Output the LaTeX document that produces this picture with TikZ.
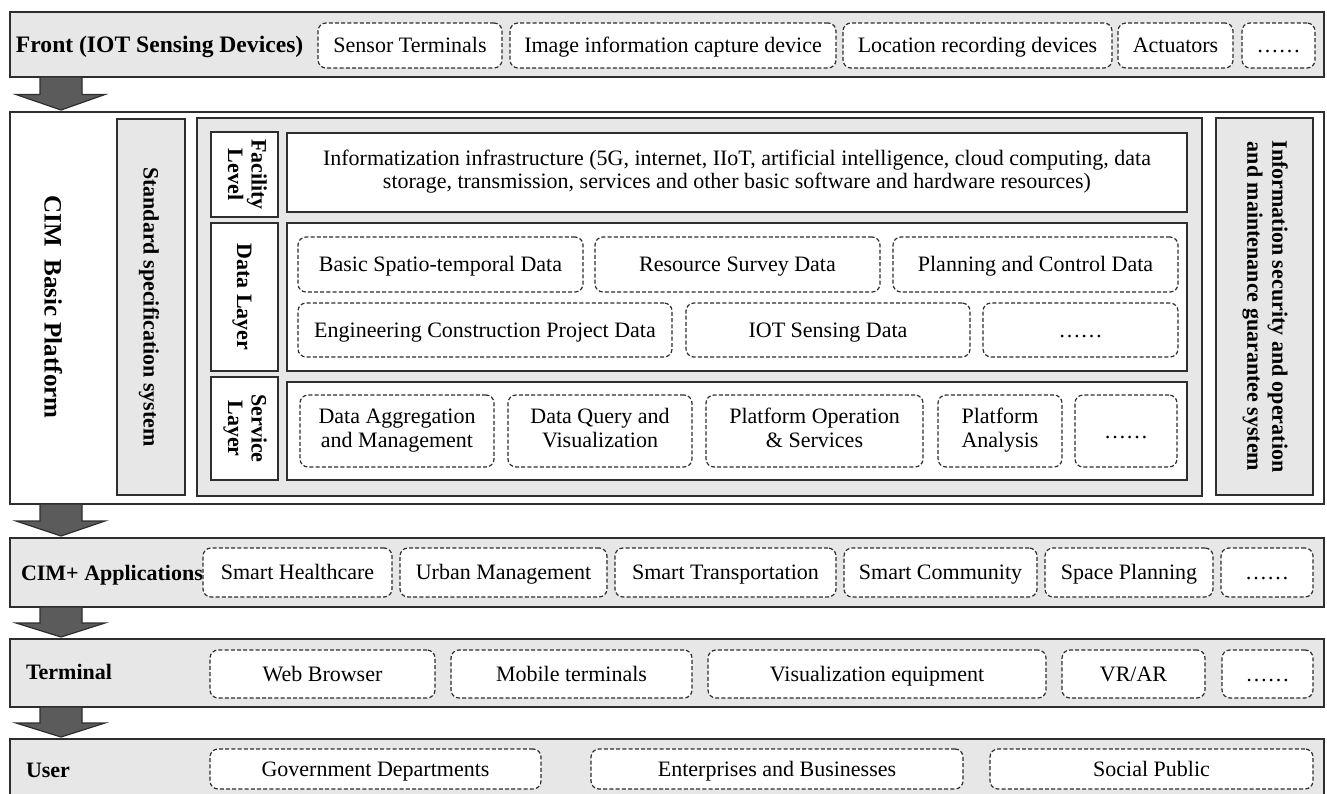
\documentclass[tikz,border=0pt]{standalone}
\usepackage{fontspec}
\setmainfont{Liberation Serif}
\usetikzlibrary{calc}

\definecolor{barfill}{HTML}{E7E7E7}
\definecolor{edge}{HTML}{2E2E2E}
\definecolor{arrowfill}{HTML}{5B5B5B}

% invisible rule, deeper and taller than any letter, whose middle sits at
% half the capital height: every line is then centred on its capitals
\newcommand\capstrut{\rule[-6pt]{0pt}{26.6pt}}

\tikzset{
  every node/.style={font=\fontsize{22}{23.5}\selectfont, inner sep=0pt, outer sep=0pt},
  centred/.style={execute at begin node=\capstrut, execute at end node=\capstrut},
  bar/.style={draw=edge, fill=barfill, line width=1.8pt},
  platform/.style={draw=edge, fill=white, line width=1.8pt},
  panel/.style={draw=edge, fill=barfill, line width=1.4pt},
  whitebox/.style={draw=edge, fill=white, line width=1.4pt, align=center, centred},
  headbox/.style={draw=edge, fill=white, line width=1.4pt, align=center, centred,
    font=\fontsize{22}{23.5}\selectfont\bfseries},
  sidebox/.style={draw=edge, fill=barfill, line width=1.4pt, align=center, centred,
    font=\fontsize{22}{25}\selectfont\bfseries},
  item/.style={draw=edge, fill=white, line width=1.2pt,
    dash pattern=on 4pt off 2.2pt, rounded corners=8pt, align=center, centred},
  lbl/.style={font=\fontsize{22}{24}\selectfont\bfseries, anchor=west, centred},
  bigarrow/.style={draw=edge, fill=arrowfill, line width=1.2pt, line join=miter},
}

% box given by its corners: name, style, x1, y1, x2, y2, text
\newcommand\boxnode[7]{%
  \node[#2, minimum width={(#5-#3)*1pt}, minimum height={(#6-#4)*1pt}]
    (#1) at ({(#3+#5)/2},{(#4+#6)/2}) {#7};}
% same, with the text turned to read downwards
\newcommand\turnednode[7]{%
  \node[#2, rotate=-90, minimum width={(#6-#4)*1pt}, minimum height={(#5-#3)*1pt}]
    (#1) at ({(#3+#5)/2},{(#4+#6)/2}) {#7};}
% broad block arrow from the bottom of one band to the top of the next
\newcommand\flowarrow[2]{%
  \draw[bigarrow] let \p1=(#1.south west), \p2=(#2.north west),
      \n1={0.5*(\y1+\y2)} in
    ({\x1+30pt},\y1) -- ({\x1+72pt},\y1) -- ({\x1+72pt},{\n1*1pt})
    -- ({\x1+95pt},{\n1*1pt}) -- ({\x1+51pt},{\y2+2pt})
    -- ({\x1+6pt},{\n1*1pt}) -- ({\x1+30pt},{\n1*1pt}) -- cycle;}

\begin{document}
\begin{tikzpicture}[x=1pt, y=-1pt]
\useasboundingbox (0,0) rectangle (1327,794);

% ---------- Front band ----------
\boxnode{front}{bar}{10}{12}{1324}{77}{}
\node[lbl, font=\fontsize{23.6}{25}\selectfont\bfseries] (frontlbl) at (16,45) {Front (IOT Sensing Devices)};
\boxnode{f1}{item}{318}{23}{502}{68}{Sensor Terminals}
\boxnode{f2}{item}{510}{23}{836}{68}{Image information capture device}
\boxnode{f3}{item}{843}{23}{1112}{68}{Location recording devices}
\boxnode{f4}{item}{1118}{23}{1233}{68}{Actuators}
\boxnode{f5}{item}{1242}{23}{1315}{68}{\dots\dots}

% ---------- CIM basic platform ----------
\boxnode{plat}{platform}{10}{112}{1324}{504}{}
\node[font=\fontsize{25}{27}\selectfont\bfseries, rotate=-90, centred] (platlbl) at (52,307) {CIM~~Basic Platform};
\turnednode{std}{sidebox}{117}{119}{185}{495}{Standard specification system}
\boxnode{inner}{panel}{197}{118}{1202}{496}{}
\turnednode{sec}{sidebox}{1216}{118}{1313}{495}{Information security and operation\\and maintenance guarantee system}

% layer headings
\turnednode{facl}{headbox}{211}{132}{278}{217}{Facility\\Level}
\turnednode{datl}{headbox}{211}{223}{278}{371}{Data Layer}
\turnednode{serl}{headbox}{211}{377}{278}{480}{Service\\Layer}

% facility level
\boxnode{facc}{whitebox}{287}{133}{1187}{212}{Informatization infrastructure (5G, internet, IIoT, artificial intelligence, cloud computing, data\\storage, transmission, services and other basic software and hardware resources)}

% data layer
\boxnode{datc}{whitebox}{287}{223}{1187}{371}{}
\boxnode{d1}{item}{298}{237}{583}{292}{Basic Spatio-temporal Data}
\boxnode{d2}{item}{595}{237}{880}{292}{Resource Survey Data}
\boxnode{d3}{item}{893}{237}{1178}{292}{Planning and Control Data}
\boxnode{d4}{item}{298}{303}{672}{357}{Engineering Construction Project Data}
\boxnode{d5}{item}{686}{303}{970}{357}{IOT Sensing Data}
\boxnode{d6}{item}{983}{303}{1178}{357}{\dots\dots}

% service layer
\boxnode{serc}{whitebox}{287}{382}{1187}{480}{}
\boxnode{s1}{item}{300}{395}{494}{467}{Data Aggregation\\and Management}
\boxnode{s2}{item}{508}{395}{692}{467}{Data Query and\\Visualization}
\boxnode{s3}{item}{706}{395}{923}{467}{Platform Operation\\\& Services}
\boxnode{s4}{item}{938}{395}{1062}{467}{Platform\\Analysis}
\boxnode{s5}{item}{1075}{395}{1177}{467}{\dots\dots}

% ---------- CIM+ applications ----------
\boxnode{apps}{bar}{10}{538}{1324}{607}{}
\node[lbl] (appslbl) at (21,573) {CIM+ Applications};
\boxnode{a1}{item}{203}{548}{392}{597}{Smart Healthcare}
\boxnode{a2}{item}{400}{548}{607}{597}{Urban Management}
\boxnode{a3}{item}{615}{548}{836}{597}{Smart Transportation}
\boxnode{a4}{item}{844}{548}{1037}{597}{Smart Community}
\boxnode{a5}{item}{1045}{548}{1213}{597}{Space Planning}
\boxnode{a6}{item}{1221}{548}{1313}{597}{\dots\dots}

% ---------- Terminal ----------
\boxnode{term}{bar}{10}{639}{1324}{707}{}
\node[lbl] (termlbl) at (26,672) {Terminal};
\boxnode{t1}{item}{210}{650}{435}{698}{Web Browser}
\boxnode{t2}{item}{451}{650}{692}{698}{Mobile terminals}
\boxnode{t3}{item}{708}{650}{1046}{698}{Visualization equipment}
\boxnode{t4}{item}{1062}{650}{1205}{698}{VR/AR}
\boxnode{t5}{item}{1222}{650}{1313}{698}{\dots\dots}

% ---------- User ----------
\boxnode{user}{bar}{10}{739}{1324}{800}{}
\node[lbl] (userlbl) at (26,770) {User};
\boxnode{u1}{item}{210}{749}{541}{789}{Government Departments}
\boxnode{u2}{item}{591}{749}{963}{789}{Enterprises and Businesses}
\boxnode{u3}{item}{990}{749}{1313}{789}{Social Public}

% ---------- flow between the bands ----------
\flowarrow{front}{plat}
\flowarrow{plat}{apps}
\flowarrow{apps}{term}
\flowarrow{term}{user}
\end{tikzpicture}
\end{document}
